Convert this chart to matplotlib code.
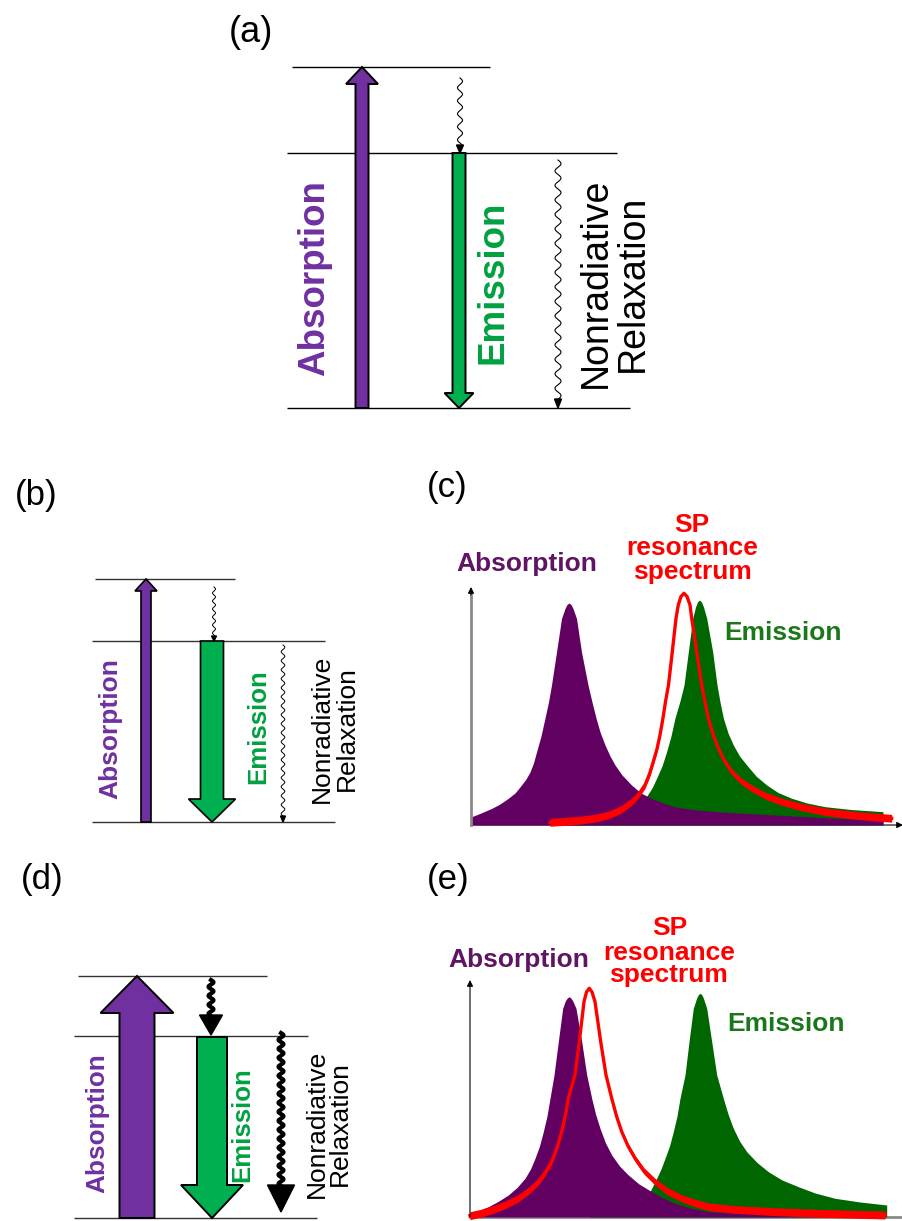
import numpy as np
import matplotlib
matplotlib.use('Agg')
import matplotlib.pyplot as plt
from matplotlib.patches import Polygon

plt.rcParams['font.family'] = ['Liberation Sans', 'DejaVu Sans']

W, H = 903, 1221

ARROW_PURPLE = '#7030A0'
ARROW_GREEN = '#00B050'
TEXT_PURPLE = '#7030A0'
TEXT_GREEN = '#00A040'
ABS_FILL = '#620062'
EM_FILL = '#006600'
SP_RED = '#FF0000'
LABEL_PURPLE = '#5F1464'
LABEL_GREEN = '#1A781A'

# --- spectra (wavelength, intensity in a.u.) ---
# panel (c): emission red-shifted, overlapping the SP resonance
c_abs_x = [0, 10, 20.5, 29, 37, 44, 50.5, 55, 59, 62.5, 65.5, 70, 74, 77.5, 80.5, 85.5, 90.5,
           94, 96, 98, 100, 102, 105.5, 110.5, 117, 121, 125, 129, 134, 139, 144, 151, 160.5,
           170, 180.5, 192, 204, 225, 250, 304, 360, 412]
c_abs_y = [8, 12, 16.5, 21, 26.5, 32, 40, 46, 53, 62, 73, 89, 107, 123, 140, 173, 206.5,
           216.5, 220.5, 222, 220.5, 216.5, 206.5, 173, 140, 123, 107, 93, 80, 69, 60, 50, 40,
           32, 26.5, 22, 18, 15, 13, 10, 7, 5]

c_em_x = [100, 150, 165, 175.5, 181, 185.5, 191, 195.5, 200, 204, 209, 213, 217.3, 221.7,
          224.5, 226.5, 228.3, 230.5, 232.5, 235.7, 241.7, 246, 249, 252.3, 257, 262.3, 268.5,
          275.7, 285, 295.7, 307, 320.7, 336, 354, 380, 412]
c_em_y = [4, 10, 18, 28.5, 37, 46.5, 59, 73, 89, 107, 124, 140, 173, 206.7,
          218, 223, 225, 223, 218, 206.7, 173, 140, 123, 107, 92, 80, 69,
          60, 49, 40, 32.5, 26.7, 22, 18.3, 15.5, 13.3]

c_sp_x = [79, 95, 110.7, 125, 137.3, 150, 160.7, 168, 174, 178.5, 182.3, 186, 189, 192, 194.5,
          197.5, 201.3, 205, 207.3, 210, 213, 216, 219, 220.7, 225.7, 230.7, 234, 237.3, 242,
          247.3, 253.5, 260.7, 270, 280.7, 295, 310.7, 330, 354, 385, 420.7]
c_sp_y = [2.7, 3.7, 5, 7, 10, 15.5, 23.3, 31, 40, 51, 63.3, 76, 90, 107, 123.3,
          140, 173.3, 206.7, 220, 228.5, 231.7, 228.5, 220, 206.7, 173.3, 140, 123.3, 106.7, 91,
          76.7, 64, 53.3, 44, 36.7, 29, 23.3, 18, 13.3, 9.5, 6.7]

# panel (e): SP resonance overlapping the absorption
e_abs_x = [0, 9, 18.3, 28, 38.3, 47, 55, 60.5, 65, 69.5, 73.3, 77, 80, 84, 88.3, 92.7, 95.5,
           97.3, 99, 100.8, 102.5, 106, 111.7, 116.7, 121.7, 125.5, 130, 135.5, 141.7, 149.5,
           158.3, 169, 181.7, 193, 205, 220, 238.3, 265, 300, 412]
e_abs_y = [3.7, 6.5, 10.3, 15.5, 22, 29.5, 38.7, 48, 58.7, 71, 85.3, 101, 118.7, 142, 175.3,
           208.7, 216.5, 219, 220.3, 219, 216.5, 208.7, 175.3, 142, 118.7, 103, 88.7, 74, 62, 51,
           42, 33, 25.3, 19, 13.7, 9, 5.3, 3.8, 3, 1.5]

e_em_x = [120, 160, 171, 180, 186.7, 191, 195, 199.5, 203.3, 207, 210, 215, 219, 223.3, 226.5,
          228.3, 230, 231.8, 233.5, 236.7, 241.7, 246.7, 253.3, 258, 263.3, 269.5, 276.7, 287,
          298.3, 312, 328.3, 345, 365, 390, 416.7]
e_em_y = [3, 10, 17, 25.3, 38.7, 48, 58.7, 71, 85.3, 101, 118.7, 142, 175.3, 208.7, 218.5,
          222.3, 223.7, 222.3, 218.5, 208.7, 175.3, 142, 118.7, 103, 88.7, 76, 65.3, 54.5,
          45.3, 37, 30.3, 24, 18.7, 15, 12]

e_sp_x = [0, 11, 21.7, 35, 48.3, 59, 68.3, 75.5, 81.7, 87, 91.7, 95.5, 98.3, 101.5, 105, 109.3,
          114, 116.5, 119.3, 122, 125, 130.7, 136, 141.7, 146.5, 151.7, 158, 165, 174, 185, 197,
          211.7, 225, 238.3, 265, 305, 355, 415]
e_sp_y = [1.3, 3.8, 7, 12, 18.7, 26.5, 35.3, 45, 55.3, 69, 85.3, 102, 118.7, 130, 142, 175.3,
          215.3, 225, 228.7, 225, 215.3, 175.3, 142, 118.7, 101, 85.3, 71, 58.7, 46, 35.3, 26,
          18.7, 14, 10.3, 7.5, 5.3, 3.5, 2]


fig = plt.figure(figsize=(W / 100, H / 100), dpi=100)
ax = fig.add_axes([0, 0, 1, 1])
ax.set_xlim(0, W)
ax.set_ylim(H, 0)
ax.axis('off')


def level(y, x0, x1, color='black', lw=1.0):
    ax.plot([x0, x1], [y, y], color=color, lw=lw, solid_capstyle='butt', zorder=2)


def block_arrow(x, y_tail, y_tip, shaft, head, head_len, face, lw=1.3):
    s = 1 if y_tip > y_tail else -1
    yb = y_tip - s * head_len
    pts = [(x - shaft / 2, y_tail), (x - shaft / 2, yb), (x - head / 2, yb), (x, y_tip),
           (x + head / 2, yb), (x + shaft / 2, yb), (x + shaft / 2, y_tail)]
    ax.add_patch(Polygon(pts, closed=True, facecolor=face, edgecolor='black',
                         lw=lw, joinstyle='miter', zorder=3))


def wavy_arrow(x, y0, y1, amp, period, lw, head, head_len):
    yy = np.linspace(y0, y1 - head_len * 0.8, 400)
    xx = x + amp * np.sin(2 * np.pi * (yy - y0) / period)
    ax.plot(xx, yy, color='black', lw=lw, zorder=3)
    ax.add_patch(Polygon([(x - head / 2, y1 - head_len), (x + head / 2, y1 - head_len), (x, y1)],
                         closed=True, color='black', zorder=3))


def vtext(x, y, s, size, color='black', weight='normal'):
    ax.text(x, y, s, rotation=90, fontsize=size, color=color, fontweight=weight,
            ha='center', va='center')


# ---------------- (a) ----------------
ax.text(251, 33, '(a)', fontsize=26, ha='center', va='center')
level(67, 292, 490)
level(153, 287, 617)
level(408, 287, 630)
block_arrow(362, 408, 67, 13, 32, 17, ARROW_PURPLE, lw=1.4)
block_arrow(459, 153, 408, 13, 29, 15, ARROW_GREEN, lw=1.4)
wavy_arrow(460, 78, 153, 2.5, 13, 0.8, 7, 8)
wavy_arrow(558, 160, 408, 3.0, 14.5, 0.8, 7, 9)
vtext(315, 278, 'Absorption', 26.5, TEXT_PURPLE, 'bold')
vtext(493, 282, 'Emission', 26.5, TEXT_GREEN, 'bold')
vtext(596, 283, 'Nonradiative', 27)
vtext(633, 283, 'Relaxation', 27)

# ---------------- (b) ----------------
ax.text(36, 496, '(b)', fontsize=25, ha='center', va='center')
level(579, 95, 235, '#333333')
level(641, 92, 325, '#333333')
level(822, 92, 335, '#333333')
block_arrow(146, 822, 579, 10, 22, 12, ARROW_PURPLE, lw=1.2)
block_arrow(212, 641, 822, 23, 47, 23, ARROW_GREEN, lw=1.2)
wavy_arrow(214, 587, 641, 1.5, 8, 0.7, 5, 5)
wavy_arrow(283, 645, 822, 1.8, 9, 0.7, 5, 6)
vtext(110, 729, 'Absorption', 19, TEXT_PURPLE, 'bold')
vtext(258, 727, 'Emission', 18.6, TEXT_GREEN, 'bold')
vtext(322, 729, 'Nonradiative', 19)
vtext(347, 729, 'Relaxation', 19)

# ---------------- (d) ----------------
ax.text(42, 880, '(d)', fontsize=25, ha='center', va='center')
level(976, 78, 267, '#333333')
level(1036, 74, 308, '#333333')
level(1218, 74, 317, '#333333')
block_arrow(137, 1218, 976, 35, 73, 37, ARROW_PURPLE, lw=1.4)
block_arrow(212, 1037, 1218, 30, 62, 33, ARROW_GREEN, lw=1.4)
wavy_arrow(211, 980, 1035, 2.5, 9, 3.0, 23, 20)
wavy_arrow(281, 1033, 1212, 2.5, 9, 3.0, 27, 27)
vtext(97, 1123, 'Absorption', 18.8, TEXT_PURPLE, 'bold')
vtext(242, 1125, 'Emission', 18.6, TEXT_GREEN, 'bold')
vtext(317, 1124, 'Nonradiative', 19)
vtext(340, 1124, 'Relaxation', 19)


# ---------------- spectra (c) and (e) ----------------
def spectrum_panel(x0, y0, absx, absy, emx, emy, spx, spy, grey_y_axis):
    sax = fig.add_axes([x0 / W, (H - y0) / H, 432 / W, 245 / H])
    sax.set_xlim(0, 432)
    sax.set_ylim(0, 245)
    sax.axis('off')
    sax.fill_between(emx, emy, color=EM_FILL, lw=0, zorder=1)
    sax.fill_between(absx, absy, color=ABS_FILL, lw=0, zorder=2)
    spx = np.asarray(spx)
    spy = np.asarray(spy)
    # the SP line gets heavier towards the baseline
    d = 4.0 * (1 - spy / spy.max())
    sax.fill_between(spx, spy - d, spy + d, color=SP_RED, lw=0, zorder=3, clip_on=False)
    sax.plot(spx, spy, color=SP_RED, lw=2.4, zorder=3, solid_joinstyle='round', clip_on=False)
    head = dict(arrowstyle='-|>', color='black', lw=0.8, mutation_scale=9, shrinkA=0, shrinkB=0)
    if grey_y_axis:
        sax.plot([0, 0], [0, 232], color='#8a8a8a', lw=2.0, zorder=4, clip_on=False)
        sax.annotate('', xy=(0, 238), xytext=(0, 230), arrowprops=head, zorder=4)
        sax.annotate('', xy=(432, 0), xytext=(0, 0), arrowprops=head, zorder=0)
    else:
        sax.annotate('', xy=(0, 237), xytext=(0, 0), arrowprops=head, zorder=4)
        sax.plot([0, 432], [0, 0], color='#8a8a8a', lw=2.0, zorder=0, clip_on=False)
    return sax


ax.text(447, 487, '(c)', fontsize=25, ha='center', va='center')
spectrum_panel(471, 825, c_abs_x, c_abs_y, c_em_x, c_em_y, c_sp_x, c_sp_y, True)
ax.text(527, 564, 'Absorption', fontsize=19, fontweight='bold', color=LABEL_PURPLE, ha='center', va='center')
ax.text(692, 525, 'SP', fontsize=19, fontweight='bold', color=SP_RED, ha='center', va='center')
ax.text(692, 548, 'resonance', fontsize=19, fontweight='bold', color=SP_RED, ha='center', va='center')
ax.text(692, 572, 'spectrum', fontsize=19, fontweight='bold', color=SP_RED, ha='center', va='center')
ax.text(783, 633, 'Emission', fontsize=19, fontweight='bold', color=LABEL_GREEN, ha='center', va='center')

ax.text(448, 880, '(e)', fontsize=25, ha='center', va='center')
spectrum_panel(470, 1217, e_abs_x, e_abs_y, e_em_x, e_em_y, e_sp_x, e_sp_y, False)
ax.text(519, 960, 'Absorption', fontsize=19, fontweight='bold', color=LABEL_PURPLE, ha='center', va='center')
ax.text(670, 928, 'SP', fontsize=19, fontweight='bold', color=SP_RED, ha='center', va='center')
ax.text(669, 953, 'resonance', fontsize=19, fontweight='bold', color=SP_RED, ha='center', va='center')
ax.text(668, 975, 'spectrum', fontsize=19, fontweight='bold', color=SP_RED, ha='center', va='center')
ax.text(786, 1024, 'Emission', fontsize=19, fontweight='bold', color=LABEL_GREEN, ha='center', va='center')

fig.savefig('out.png', dpi=100)
